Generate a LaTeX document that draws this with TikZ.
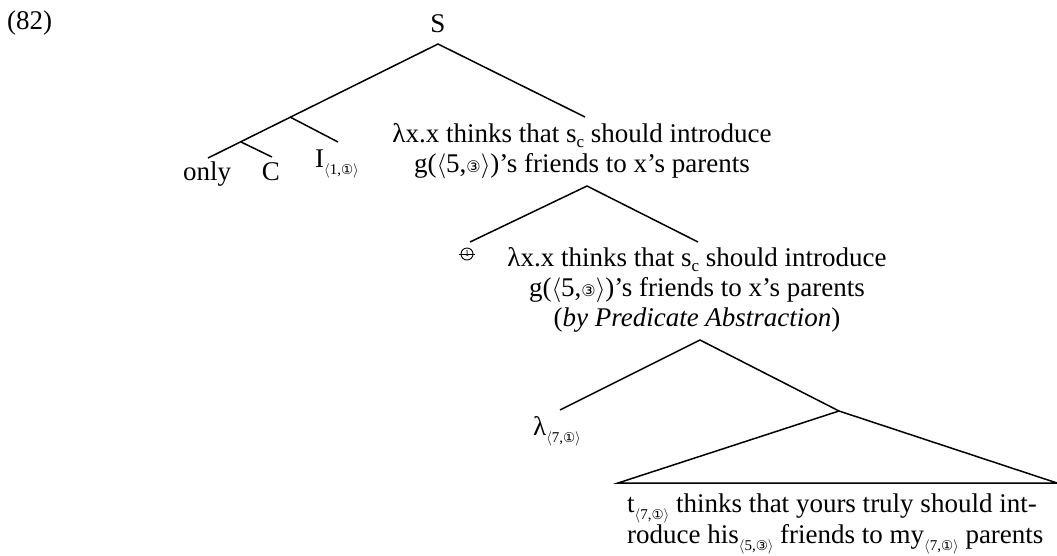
\documentclass[tikz,border=0pt]{standalone}
\usepackage{fontspec}
\setmainfont{Liberation Serif}
\newfontfamily\circf{DejaVu Sans}
\newcommand\ix[2]{\raisebox{-7pt}{\fontsize{15}{15}\selectfont$\langle$#1,{\circf\fontsize{13.5}{13.5}\selectfont #2}$\rangle$}}
\newcommand\lowc[1]{\raisebox{-5pt}{\fontsize{17}{17}\selectfont #1}}
\newcommand\cnum[1]{{\circf\fontsize{16}{16}\selectfont #1}}
\begin{document}
\begin{tikzpicture}[x=1pt,y=-1pt,
  every node/.style={inner sep=0pt},
  txt/.style={font=\fontsize{27}{30}\selectfont},
  branch/.style={line width=1.5pt},
  struck/.style={circle,draw,line width=0.9pt,minimum size=12pt,font=\fontsize{9}{9}\selectfont}]
\useasboundingbox (0,0) rectangle (1057,555);
% label
\node[txt,anchor=west] (ex) at (7,23) {(82)};
% root
\node[txt] (S) at (438,24) {S};
\coordinate (s0) at (438,44);
\coordinate (j1) at (290,117);
\coordinate (j2) at (241,142);
\coordinate (onlyT) at (208,158);
\coordinate (cT) at (272,157);
\coordinate (iT) at (338,142);
\coordinate (a1T) at (585,117);
% leaves
\node[txt,anchor=base] (only) at (207,180) {only};
\node[txt,anchor=base] (C) at (271,180) {C};
\node[txt,anchor=base] (I) at (337,167) {I\ix{1}{①}};
% node 1
\node[txt,anchor=north,align=center] (n1) at (582,123)
  {λx.x thinks that s\lowc{c} should introduce\\
   g($\langle$5,\cnum{③}$\rangle$)’s friends to x’s parents};
\coordinate (a1B) at (587,186);
\coordinate (oneT) at (470,242);
\coordinate (a2T) at (698,242);
% struck index
\node[struck] (one) at (467,254) {1};
\draw[line width=0.9pt] ([xshift=-2pt]one.west) -- ([xshift=2pt]one.east);
% node 2
\node[txt,anchor=north,align=center] (n2) at (697,247)
  {λx.x thinks that s\lowc{c} should introduce\\
   g($\langle$5,\cnum{③}$\rangle$)’s friends to x’s parents\\
   (\textit{by Predicate Abstraction})};
\coordinate (a2B) at (700,340);
\coordinate (lamT) at (560,410);
\coordinate (j3) at (839,411);
\coordinate (bl) at (618,483);
\coordinate (br) at (1057,483);
\node[txt,anchor=base] (lam) at (557,435) {λ\ix{7}{①}};
% bottom
\node[txt,anchor=north west,align=left,font=\fontsize{27}{28}\selectfont] (n3) at (627,494)
  {t\ix{7}{①} thinks that yours truly should int-\\
   roduce his\ix{5}{③} friends to my\ix{7}{①} parents};
% branches
\draw[branch] (onlyT) -- (s0) -- (a1T);
\draw[branch] (j1) -- (iT);
\draw[branch] (j2) -- (cT);
\draw[branch] (oneT) -- (a1B) -- (a2T);
\draw[branch] (lamT) -- (a2B) -- (j3);
\draw[branch] (j3) -- (bl) -- (br) -- cycle;
\end{tikzpicture}
\end{document}
